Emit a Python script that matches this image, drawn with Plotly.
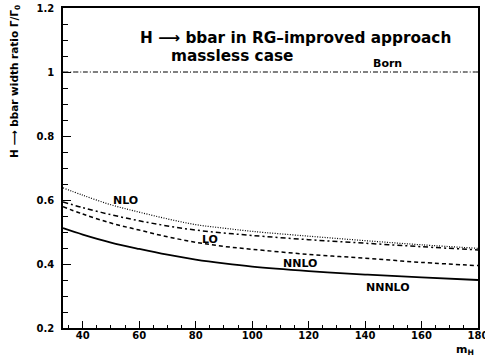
import plotly.graph_objects as go

m_H = [33, 40, 50, 60, 70, 80, 90, 100, 120, 140, 160, 180]
nlo = [0.638, 0.615, 0.585, 0.562, 0.541, 0.523, 0.512, 0.502, 0.487, 0.473, 0.460, 0.449]
lo = [0.594, 0.576, 0.554, 0.535, 0.519, 0.506, 0.497, 0.489, 0.476, 0.465, 0.454, 0.444]
nnlo = [0.579, 0.556, 0.528, 0.506, 0.485, 0.468, 0.455, 0.446, 0.430, 0.418, 0.405, 0.395]
nnnlo = [0.512, 0.492, 0.467, 0.447, 0.429, 0.414, 0.402, 0.392, 0.378, 0.367, 0.358, 0.350]
born = [1.0] * len(m_H)

x_ticks = [40, 60, 80, 100, 120, 140, 160, 180]
y_ticks = [0.2, 0.4, 0.6, 0.8, 1.0, 1.2]
y_ticktext = ["0.2", "0.4", "0.6", "0.8", "1", "1.2"]

FONT = "DejaVu Sans"

fig = go.Figure()
fig.add_trace(go.Scatter(x=m_H, y=born, mode="lines", line=dict(color="black", width=1, dash="5px,2px,1px,2px"), line_shape="spline"))
fig.add_trace(go.Scatter(x=m_H, y=nlo, mode="lines", line=dict(color="black", width=1.2, dash="1px,1.5px"), line_shape="spline"))
fig.add_trace(go.Scatter(x=m_H, y=lo, mode="lines", line=dict(color="black", width=1.5, dash="5px,3px,2px,3px"), line_shape="spline"))
fig.add_trace(go.Scatter(x=m_H, y=nnlo, mode="lines", line=dict(color="black", width=1.5, dash="4px,3px"), line_shape="spline"))
fig.add_trace(go.Scatter(x=m_H, y=nnnlo, mode="lines", line=dict(color="black", width=1.8), line_shape="spline"))

labels = [("Born", 148, 1.028), ("NLO", 55, 0.6), ("LO", 85, 0.478), ("NNLO", 117, 0.403), ("NNNLO", 148, 0.328)]
for t, x, y in labels:
    fig.add_annotation(x=x, y=y, text=t, showarrow=False, xref="x", yref="y",
                       font=dict(family=FONT, size=11, color="black", weight="bold"))

W, L = 415, 63
fig.add_annotation(x=(295 - L) / W, y=1 - (27 - 8) / 320, xref="paper", yref="paper",
                   text="H ⟶ bbar in RG–improved approach", showarrow=False,
                   font=dict(family=FONT, size=15.3, color="black", weight="bold"))
fig.add_annotation(x=(232 - L) / W, y=1 - (45 - 8) / 320, xref="paper", yref="paper",
                   text="massless case", showarrow=False,
                   font=dict(family=FONT, size=15.3, color="black", weight="bold"))
fig.add_annotation(x=(15 - L) / W, y=1 - (82 - 8) / 320, xref="paper", yref="paper",
                   text="H ⟶ bbar width ratio Γ/Γ<sub>0</sub>", textangle=-90,
                   xanchor="center", yanchor="middle", showarrow=False,
                   font=dict(family=FONT, size=10.5, weight="bold"))
fig.add_annotation(x=(476 - L) / W, y=-(350 - 328) / 320, xref="paper", yref="paper", text="m<sub>H</sub>",
                   showarrow=False, xanchor="right", yanchor="middle",
                   font=dict(family=FONT, size=11, weight="bold"))

fig.update_layout(
    width=485, height=358,
    margin=dict(l=63, r=7, t=8, b=30, autoexpand=False),
    paper_bgcolor="white", plot_bgcolor="white",
    showlegend=False,
    font=dict(family=FONT, size=10, color="black"),
)

fig.update_xaxes(range=[33, 180], tickvals=x_ticks, ticks="inside", ticklen=7, automargin=False,
                 ticklabeloverflow="allow", ticklabelstandoff=-3,
                 tickwidth=1, tickcolor="black", showline=True, linecolor="black", linewidth=1.5, mirror=True,
                 showgrid=False, zeroline=False, tickfont=dict(family=FONT, size=10, weight="bold"),
                 minor=dict(dtick=5, tick0=0, ticks="inside", ticklen=3, tickcolor="black"))
fig.update_yaxes(range=[0.2, 1.2], tickvals=y_ticks, ticktext=y_ticktext, automargin=False,
                 ticklabeloverflow="allow", ticklabelstandoff=5,
                 ticks="inside", ticklen=8, tickwidth=1, tickcolor="black", showline=True, linecolor="black",
                 linewidth=1.5, mirror=True, showgrid=False, zeroline=False,
                 tickfont=dict(family=FONT, size=10, weight="bold"),
                 minor=dict(dtick=0.05, tick0=0, ticks="inside", ticklen=5, tickcolor="black"))

fig.write_html("out.html", config={"displayModeBar": False},
               post_script="document.body.style.margin='0';")
